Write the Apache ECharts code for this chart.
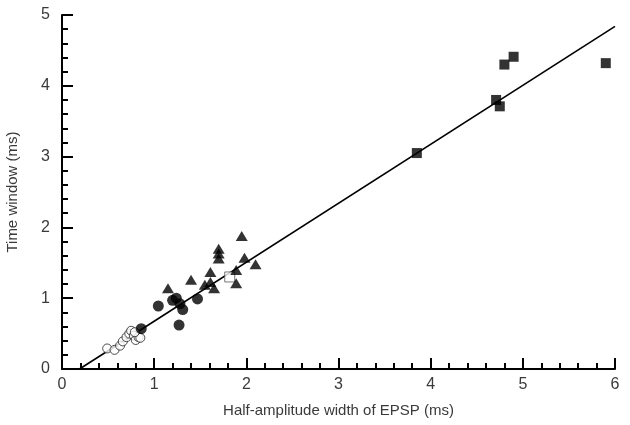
<!DOCTYPE html>
<html>
<head>
<meta charset="utf-8">
<script src="https://cdn.jsdelivr.net/npm/echarts@6/dist/echarts.min.js"></script>
<style>
  html, body { margin: 0; padding: 0; background: #fff; }
  #chart { width: 630px; height: 425px; }
</style>
</head>
<body>
<div id="chart"></div>
<script>
// data (ms)
const squareX = [3.85, 4.71, 4.75, 4.80, 4.90, 5.90];
const squareY = [3.05, 3.80, 3.71, 4.30, 4.41, 4.32];

const triangleX = [1.15, 1.40, 1.55, 1.61, 1.61, 1.65, 1.70, 1.70, 1.70, 1.89, 1.89, 1.95, 1.98, 2.10];
const triangleY = [1.14, 1.26, 1.19, 1.23, 1.37, 1.14, 1.70, 1.63, 1.56, 1.21, 1.40, 1.88, 1.57, 1.48];

const dotX = [0.86, 1.045, 1.20, 1.24, 1.28, 1.31, 1.27, 1.47];
const dotY = [0.57, 0.89, 0.97, 1.00, 0.92, 0.84, 0.62, 0.99];

const ringX = [0.49, 0.57, 0.63, 0.66, 0.70, 0.73, 0.75, 0.78, 0.80, 0.83, 0.85, 0.79];
const ringY = [0.29, 0.27, 0.33, 0.39, 0.45, 0.50, 0.54, 0.47, 0.41, 0.45, 0.44, 0.52];

const openSquareX = [1.82];
const openSquareY = [1.30];

// regression line end points
const fitX = [0.19, 6];
const fitY = [0, 4.84];

const xTicks = [0, 1, 2, 3, 4, 5, 6];
const yTicks = [0, 1, 2, 3, 4, 5];

function pairs(xs, ys) {
    let out = [];
    for (let i = 0; i < xs.length; i++) {
        out.push([xs[i], ys[i]]);
    }
    return out;
}

let myChart = echarts.init(document.getElementById("chart"));

const axisText = { color: "#3a3a3a", fontSize: 16, fontFamily: "Liberation Sans" };
const nameText = { color: "#3a3a3a", fontSize: 15, fontFamily: "Liberation Sans" };

// tick style shared by both axes
const tickStyle = { show: true, inside: true, length: 11, lineStyle: { color: "#000", width: 2 } };
const minorStyle = { show: true, splitNumber: 5, length: 6, lineStyle: { color: "#000", width: 2 } };

myChart.setOption({
    animation: false,
    grid: { left: 62, right: 15, top: 15, bottom: 56, outerBoundsMode: "none" },
    xAxis: {
        type: "value",
        min: xTicks[0],
        max: xTicks[xTicks.length - 1],
        interval: 1,
        name: "Half-amplitude width of EPSP (ms)",
        nameLocation: "middle",
        nameGap: 34,
        nameTextStyle: nameText,
        axisLine: { show: true, lineStyle: { color: "#000", width: 2 } },
        axisTick: tickStyle,
        minorTick: minorStyle,
        axisLabel: Object.assign({ margin: 8 }, axisText),
        splitLine: { show: false }
    },
    yAxis: {
        type: "value",
        min: yTicks[0],
        max: yTicks[yTicks.length - 1],
        interval: 1,
        name: "Time window (ms)",
        nameLocation: "middle",
        nameGap: 42,
        nameTextStyle: nameText,
        axisLine: { show: true, lineStyle: { color: "#000", width: 2 } },
        axisTick: tickStyle,
        minorTick: minorStyle,
        axisLabel: Object.assign({ margin: 12 }, axisText),
        splitLine: { show: false }
    },
    series: [
        {
            name: "fit",
            type: "line",
            data: pairs(fitX, fitY),
            symbol: "none",
            lineStyle: { color: "#000", width: 1.6 },
            z: 1
        },
        {
            name: "open circles",
            type: "scatter",
            data: pairs(ringX, ringY),
            symbol: "circle",
            symbolSize: 9,
            itemStyle: { color: "#fff", borderColor: "#222", borderWidth: 1 },
            z: 2
        },
        {
            name: "filled circles",
            type: "scatter",
            data: pairs(dotX, dotY),
            symbol: "circle",
            symbolSize: 11,
            itemStyle: { color: "#000" },
            z: 3
        },
        {
            name: "triangles",
            type: "scatter",
            data: pairs(triangleX, triangleY),
            symbol: "triangle",
            symbolSize: [12, 10],
            itemStyle: { color: "#000" },
            z: 3
        },
        {
            name: "open square",
            type: "scatter",
            data: pairs(openSquareX, openSquareY),
            symbol: "rect",
            symbolSize: 10,
            itemStyle: { color: "#fff", borderColor: "#555", borderWidth: 1 },
            z: 2
        },
        {
            name: "squares",
            type: "scatter",
            data: pairs(squareX, squareY),
            symbol: "rect",
            symbolSize: 10,
            itemStyle: { color: "#000" },
            z: 3
        }
    ]
});
</script>
</body>
</html>
